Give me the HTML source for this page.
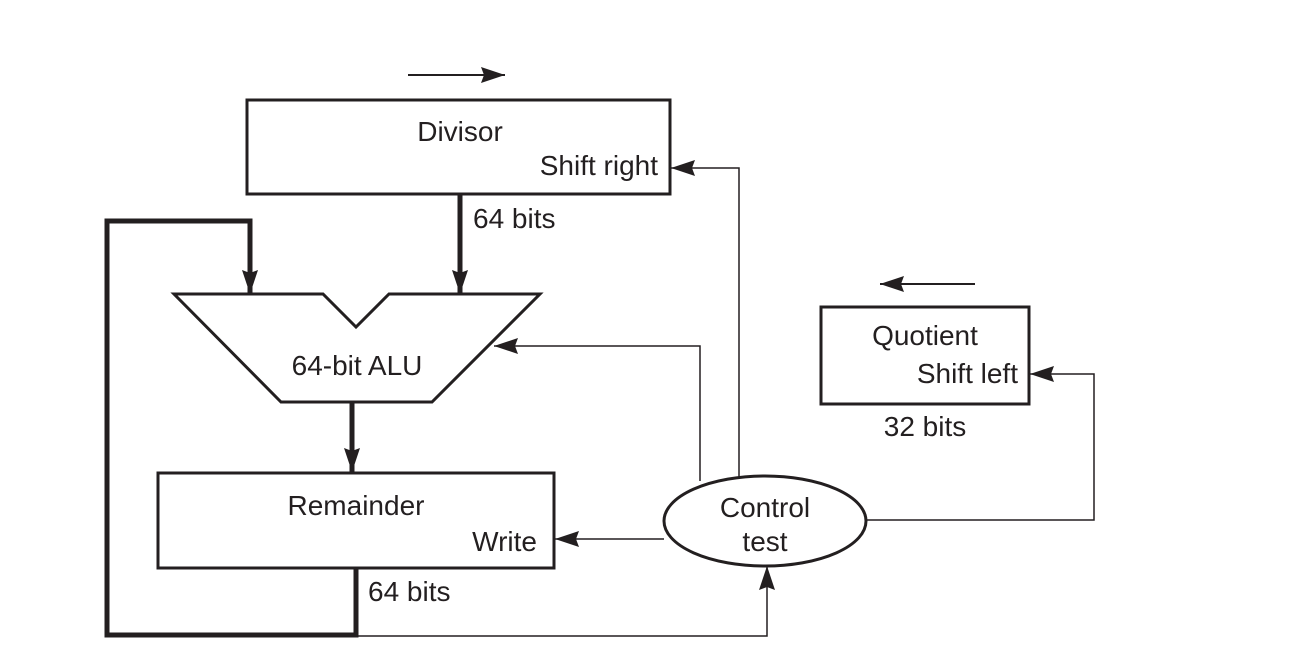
<!DOCTYPE html>
<html><head><style>body{margin:0;background:#fff}svg{display:block}text{font-family:"Liberation Sans",sans-serif;font-size:28px;fill:#231f20}</style></head>
<body>
<svg width="1308" height="662" viewBox="0 0 1308 662">
<defs>
<marker id="b" markerWidth="24" markerHeight="16" refX="24" refY="8" orient="auto" markerUnits="userSpaceOnUse" viewBox="0 0 24 16"><path d="M0,0L24,8L0,16L3,8z" fill="#231f20"/></marker>
</defs>
<g stroke="#231f20" fill="none">
<line x1="408" y1="75" x2="505" y2="75" stroke-width="2" marker-end="url(#b)"/>
<line x1="975" y1="284" x2="880" y2="284" stroke-width="2" marker-end="url(#b)"/>
<rect x="247" y="100" width="423" height="94" stroke-width="3"/>
<rect x="821" y="307" width="208" height="97" stroke-width="3"/>
<rect x="158" y="473" width="396" height="95" stroke-width="3"/>
<path d="M174,294 L323,294 L356,327 L389,294 L540,294 L432,402 L281,402 Z" stroke-width="3"/>
<ellipse cx="765" cy="521" rx="101" ry="45" stroke-width="3"/>
<line x1="460" y1="195" x2="460" y2="294" stroke-width="5" marker-end="url(#b)"/>
<line x1="352" y1="403" x2="352" y2="472" stroke-width="5" marker-end="url(#b)"/>
<polyline points="356,569 356,635 107,635 107,221 250,221 250,294" stroke-width="5" marker-end="url(#b)"/>
<polyline points="739,477 739,168 671,168" stroke-width="1.5" marker-end="url(#b)"/>
<polyline points="700,481 700,346 494,346" stroke-width="1.5" marker-end="url(#b)"/>
<line x1="664" y1="539" x2="555" y2="539" stroke-width="1.5" marker-end="url(#b)"/>
<polyline points="866,520 1094,520 1094,374 1030,374" stroke-width="1.5" marker-end="url(#b)"/>
<polyline points="357,636 767,636 767,566" stroke-width="1.5" marker-end="url(#b)"/>
</g>
<text x="460" y="141" text-anchor="middle">Divisor</text>
<text x="658" y="175" text-anchor="end">Shift right</text>
<text x="473" y="228">64 bits</text>
<text x="357" y="375" text-anchor="middle">64-bit ALU</text>
<text x="356" y="515" text-anchor="middle">Remainder</text>
<text x="537" y="551" text-anchor="end">Write</text>
<text x="368" y="601">64 bits</text>
<text x="765" y="517" text-anchor="middle">Control</text>
<text x="765" y="551" text-anchor="middle">test</text>
<text x="925" y="345" text-anchor="middle">Quotient</text>
<text x="1018" y="383" text-anchor="end">Shift left</text>
<text x="925" y="436" text-anchor="middle">32 bits</text>
</svg>
</body></html>
